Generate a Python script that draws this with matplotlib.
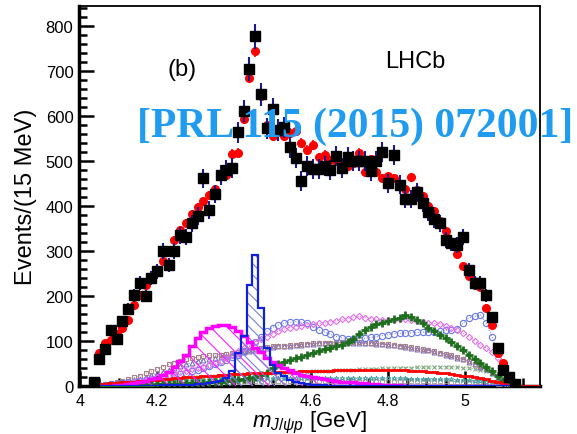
import numpy as np
import matplotlib
matplotlib.use('Agg')
import matplotlib.pyplot as plt
from matplotlib.ticker import MultipleLocator

plt.rcParams['font.family'] = ['Liberation Sans', 'DejaVu Sans']
plt.rcParams['mathtext.fontset'] = 'custom'
plt.rcParams['mathtext.rm'] = 'Liberation Sans'
plt.rcParams['mathtext.it'] = 'Liberation Sans:italic'
plt.rcParams['hatch.linewidth'] = 0.8

# binning: 15 MeV bins starting at 4.0275 GeV
m_first_edge = 4.0275
bin_w = 0.015
n_bins = 74

# data (black squares)
data = [8, 60, 82, 124, 104, 144, 171, 202, 229, 200,
        240, 255, 300, 269, 300, 335, 331, 362, 378, 462,
        391, 427, 469, 480, 484, 564, 611, 704, 778, 649,
        573, 616, 569, 575, 531, 507, 456, 489, 483, 483,
        489, 480, 511, 484, 509, 500, 500, 500, 477, 500,
        520, 451, 514, 447, 416, 416, 431, 407, 387, 371,
        362, 324, 318, 313, 331, 258, 229, 229, 202, 153,
        84, 36, 20, 4]

# total fit (red circles)
fit = [10, 73, 96, 102, 116, 129, 147, 180, 202, 224,
       240, 258, 278, 300, 325, 347, 362, 382, 398, 411,
       424, 437, 469, 470, 516, 518, 593, 686, 744, 644,
       580, 555, 565, 555, 562, 566, 540, 525, 536, 509,
       514, 502, 500, 498, 489, 495, 518, 476, 504, 476,
       462, 467, 462, 450, 438, 464, 435, 422, 400, 389,
       368, 344, 318, 293, 267, 245, 224, 220, 173, 136,
       73, 51, 18, 5]

# Pc(4450) (blue hatched)
pc4450 = [0, 0, 0, 0, 0, 0, 0, 0, 1, 1,
          1, 1, 2, 2, 2, 3, 3, 3, 4, 5,
          7, 9, 12, 18, 33, 73, 111, 224, 291, 173,
          84, 47, 29, 22, 13, 10, 7, 5, 3, 2,
          2, 1, 1, 1, 1, 1, 1, 0, 0, 0,
          0, 0, 0, 0, 0, 0, 0, 0, 0, 0,
          0, 0, 0, 0, 0, 0, 0, 0, 0, 0,
          0, 0, 0, 0]

# Pc(4380) (magenta hatched)
pc4380 = [0, 0, 1, 1, 2, 3, 4, 6, 9, 12,
          15, 18, 24, 32, 42, 55, 70, 88, 106, 119,
          128, 133, 136, 136, 132, 122, 111, 98, 85, 75,
          63, 53, 46, 40, 36, 30, 25, 22, 20, 18,
          15, 13, 11, 10, 9, 8, 7, 6, 5, 4,
          3, 3, 2, 2, 1, 1, 1, 1, 1, 0,
          0, 0, 0, 0, 0, 0, 0, 0, 0, 0,
          0, 0, 0, 0]

# background (red line), last entry runs to the right edge
bkg = [3, 4, 5, 6, 7, 8, 9, 10, 11, 12,
       13, 14, 15, 16, 18, 18, 19, 20, 21, 22,
       22, 23, 24, 25, 26, 27, 27, 28, 28, 29,
       29, 30, 31, 31, 32, 32, 33, 33, 33, 34,
       34, 34, 35, 35, 35, 36, 36, 36, 36, 36,
       35, 35, 35, 35, 35, 34, 34, 33, 32, 31,
       30, 28, 26, 25, 23, 22, 20, 17, 15, 11,
       8, 4, 2, 0, 0]

# Lambda* components (open markers)
lam_diamond = [1, 2, 2, 3, 4, 5, 7, 9, 11, 13,
               16, 19, 22, 25, 28, 31, 34, 37, 40, 43,
               47, 51, 56, 63, 70, 77, 84, 91, 98, 104,
               110, 116, 122, 126, 130, 132, 134, 136, 138, 139,
               140, 143, 145, 148, 150, 153, 155, 152, 150, 148,
               147, 147, 147, 148, 148, 147, 145, 143, 140, 139,
               138, 134, 130, 124, 118, 110, 100, 92, 85, 75,
               62, 35, 10, 2]

lam_circle = [1, 2, 3, 4, 5, 6, 8, 9, 11, 13,
              15, 17, 19, 22, 24, 27, 30, 33, 36, 40,
              44, 48, 53, 58, 64, 70, 78, 88, 98, 110,
              122, 130, 136, 140, 142, 143, 142, 140, 132, 125,
              120, 115, 110, 107, 105, 104, 105, 106, 108, 110,
              112, 114, 116, 117, 118, 118, 119, 120, 120, 121,
              122, 124, 125, 127, 140, 151, 155, 158, 140, 110,
              75, 40, 12, 2]

lam_square = [2, 3, 5, 7, 9, 12, 15, 19, 23, 28,
              33, 38, 43, 48, 52, 56, 59, 62, 64, 66,
              68, 69, 70, 72, 74, 76, 78, 80, 82, 84,
              86, 88, 89, 90, 91, 92, 93, 94, 95, 95,
              96, 96, 97, 97, 97, 97, 97, 96, 96, 95,
              94, 93, 92, 90, 88, 86, 84, 82, 80, 77,
              74, 71, 68, 64, 60, 55, 50, 44, 38, 32,
              22, 11, 4, 1]

lam_triangle = [1, 2, 3, 4, 6, 8, 10, 13, 16, 20,
                24, 28, 32, 36, 40, 44, 48, 52, 55, 58,
                61, 63, 65, 67, 70, 72, 75, 78, 80, 82,
                84, 86, 88, 89, 90, 91, 92, 93, 94, 95,
                96, 96, 97, 97, 97, 96, 96, 95, 95, 94,
                93, 92, 91, 89, 87, 85, 83, 81, 79, 76,
                73, 70, 67, 63, 59, 54, 49, 43, 37, 30,
                21, 11, 4, 1]

lam_plus = [1, 1, 1, 1, 2, 2, 2, 2, 3, 3,
            3, 4, 4, 4, 5, 5, 6, 6, 7, 7,
            8, 9, 10, 11, 12, 14, 16, 18, 21, 24,
            30, 40, 50, 54, 58, 62, 65, 70, 74, 78,
            82, 85, 88, 92, 97, 105, 115, 125, 132, 137,
            140, 144, 148, 152, 157, 153, 147, 140, 130, 122,
            114, 106, 97, 89, 80, 70, 60, 51, 42, 33,
            22, 12, 4, 1]

lam_cross = [2, 3, 4, 5, 6, 7, 8, 9, 10, 11,
             12, 13, 14, 15, 16, 17, 18, 19, 20, 21,
             22, 22, 23, 24, 25, 25, 26, 27, 27, 28,
             28, 29, 30, 30, 31, 31, 32, 32, 33, 33,
             34, 34, 35, 35, 36, 36, 37, 37, 38, 38,
             39, 39, 40, 40, 41, 41, 42, 42, 42, 43,
             43, 43, 42, 42, 41, 40, 38, 36, 33, 28,
             20, 10, 3, 1]

lam_teal = [2, 3, 4, 5, 6, 7, 8, 8, 9, 10,
            10, 11, 11, 12, 12, 13, 13, 13, 14, 14,
            14, 15, 15, 15, 15, 16, 16, 16, 16, 16,
            17, 17, 17, 17, 17, 17, 17, 17, 17, 17,
            17, 17, 17, 17, 17, 17, 17, 17, 17, 17,
            17, 17, 17, 17, 17, 16, 16, 16, 16, 16,
            15, 15, 15, 14, 14, 13, 12, 11, 10, 8,
            6, 4, 2, 1]

lam_gray = [1, 2, 3, 3, 4, 5, 5, 6, 6, 7,
            7, 8, 8, 8, 9, 9, 9, 10, 10, 10,
            10, 11, 11, 11, 11, 11, 12, 12, 12, 12,
            12, 12, 12, 12, 12, 12, 12, 12, 12, 12,
            12, 12, 12, 12, 12, 12, 12, 12, 12, 12,
            12, 12, 12, 12, 12, 12, 12, 11, 11, 11,
            11, 11, 10, 10, 10, 9, 9, 8, 7, 6,
            5, 3, 1, 0]

edges = m_first_edge + bin_w * np.arange(n_bins + 1)
centers = 0.5 * (edges[:-1] + edges[1:])
x_min, x_max = 3.997, 5.195
y_max = 845

fig = plt.figure(figsize=(5.77, 4.35), dpi=100)
ax = fig.add_axes([79/577, 48/435, 461/577, 380/435])

# Lambda* markers
comps = [
    (lam_gray, 's', '#9a9a9a', 2.5, 0.6),
    (lam_teal, '*', '#3f9f9f', 3.5, 0.6),
    (lam_cross, 'x', '#7fa87f', 3.5, 0.8),
    (lam_triangle, '^', '#7a6fc0', 3.5, 0.8),
    (lam_square, 's', '#a88088', 3.5, 0.8),
    (lam_circle, 'o', '#6a78e8', 4.5, 0.8),
    (lam_diamond, 'D', '#e070e8', 3.2, 0.8),
]
for vals, mk, col, ms, mew in comps:
    ax.plot(centers, vals, marker=mk, ls=':', lw=0.7, color=col, ms=ms,
            mfc='none', mec=col, mew=mew, zorder=3)
ax.plot(centers, lam_plus, marker='+', ls='-', lw=0.8, color='#1d6e1d',
        ms=6, mew=2, zorder=4)

# background
bkg_edges = np.append(edges, x_max)
ax.stairs(bkg, bkg_edges, color='red', lw=2, zorder=5)

# Pc(4380)
ax.stairs(pc4380, edges, fill=True, facecolor='none', edgecolor='#ff20ff',
          hatch='\\\\', lw=0, zorder=5)
ax.stairs(pc4380, edges, color='#ff00ff', lw=2.5, zorder=6)

# Pc(4450)
ax.stairs(pc4450, edges, fill=True, facecolor='none', edgecolor='#7a80d8',
          hatch='\\\\\\', lw=0, zorder=5)
ax.stairs(pc4450, edges, color='#1020e0', lw=1.6, zorder=6)

# fit and data
fit_err = 0.45 * np.sqrt(fit)
ax.errorbar(centers, fit, yerr=fit_err, fmt='o', color='red', ms=5.5,
            ecolor='red', elinewidth=1.2, capsize=0, zorder=9)
ax.errorbar(centers, data, yerr=np.sqrt(data), fmt='s', color='black',
            ms=6.5, ecolor='#1a1a8e', elinewidth=1.5, capsize=0, zorder=10)

ax.set_xlim(x_min, x_max)
ax.set_ylim(0, y_max)

ax.xaxis.set_major_locator(MultipleLocator(0.2))
ax.xaxis.set_minor_locator(MultipleLocator(0.05))
ax.yaxis.set_major_locator(MultipleLocator(100))
ax.yaxis.set_minor_locator(MultipleLocator(20))
ax.set_xticks([4, 4.2, 4.4, 4.6, 4.8, 5])
ax.set_xticklabels(['4', '4.2', '4.4', '4.6', '4.8', '5'])
ax.tick_params(which='both', direction='in', top=False, right=False, width=1.8)
ax.tick_params(which='major', length=11)
ax.tick_params(which='minor', length=5.5)
ax.tick_params(axis='y', labelsize=12, pad=4)
ax.tick_params(axis='x', labelsize=11.5, pad=5)

for side in ['left', 'bottom']:
    ax.spines[side].set_linewidth(2.5)
for side in ['top', 'right']:
    ax.spines[side].set_linewidth(1.3)

ax.set_ylabel('Events/(15 MeV)', fontsize=17, labelpad=6)
ax.set_xlabel(r'$m_{J/\psi p}$ [GeV]', fontsize=16, labelpad=1)

ax.text(0.223, 0.834, '(b)', transform=ax.transAxes, fontsize=17,
        ha='center', va='center')
ax.text(0.729, 0.855, 'LHCb', transform=ax.transAxes, fontsize=17,
        ha='center', va='center')

fig.text(137/577, 0.708, '[PRL 115 (2015) 072001]', fontsize=30,
         family='Liberation Serif', weight='bold', color='#1f9bef',
         ha='left', va='center', zorder=20)

plt.savefig('out.png', dpi=100)
